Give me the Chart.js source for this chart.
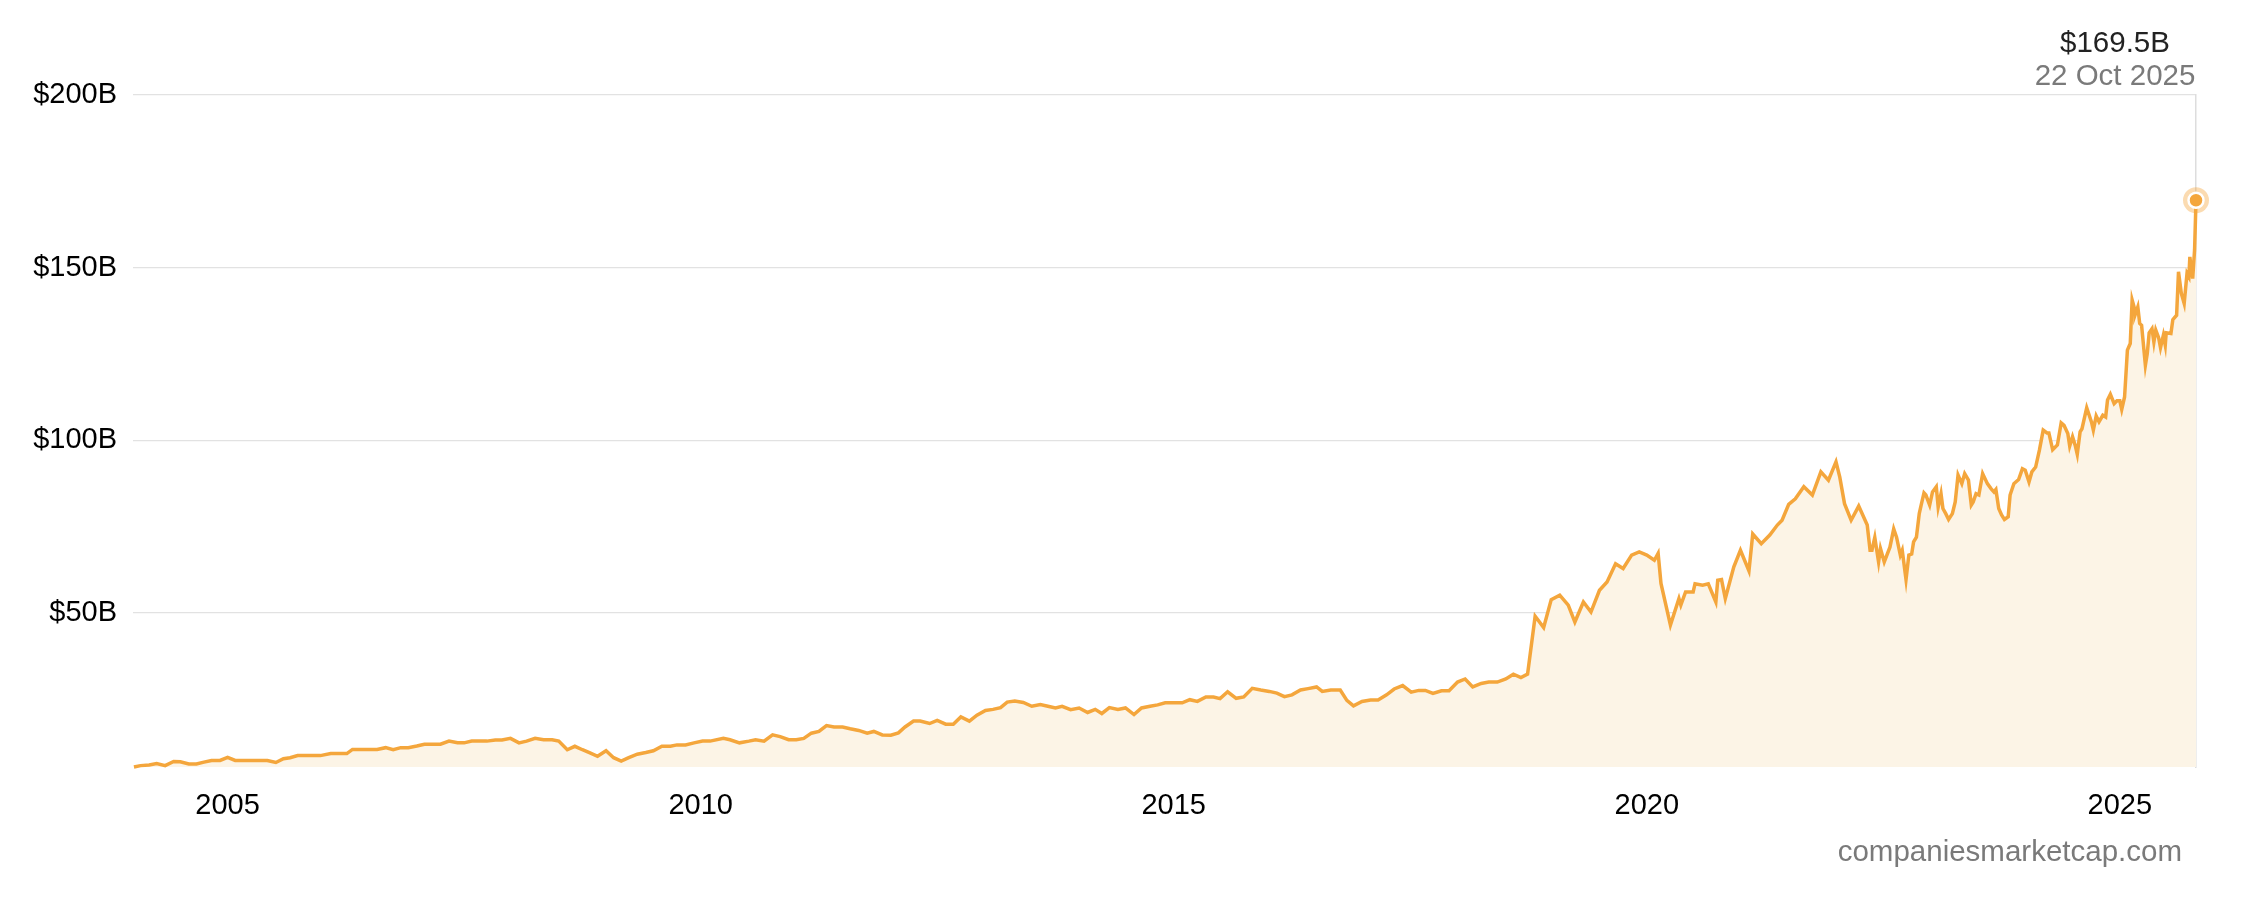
<!DOCTYPE html>
<html>
<head>
<meta charset="utf-8">
<title>Market cap</title>
<script src="https://cdn.jsdelivr.net/npm/chart.js@4.4.1/dist/chart.umd.min.js"></script>
<style>
    html, body { margin: 0; padding: 0; background: #fff; }
    canvas { display: block; }
</style>
</head>
<body>
<canvas id="capChart" width="2254" height="902"></canvas>
<script>
// decimal years of each sample
const years = [
    2004.01, 2004.08, 2004.17, 2004.25, 2004.34, 2004.43, 2004.50, 2004.59, 2004.67, 2004.75, 2004.83, 2004.92,
    2005.00, 2005.08, 2005.17, 2005.28, 2005.42, 2005.51, 2005.59, 2005.66, 2005.74, 2005.84, 2005.98,
    2006.09, 2006.26, 2006.32, 2006.40, 2006.58, 2006.67, 2006.75, 2006.83, 2006.91,
    2007.00, 2007.08, 2007.25, 2007.34, 2007.43, 2007.50, 2007.58, 2007.74, 2007.83, 2007.90, 2007.99,
    2008.08, 2008.16, 2008.25, 2008.34, 2008.43, 2008.50, 2008.59, 2008.67, 2008.75, 2008.83, 2008.91,
    2009.00, 2009.08, 2009.16, 2009.24, 2009.33, 2009.42, 2009.50, 2009.59, 2009.68, 2009.75, 2009.84, 2009.93,
    2010.02, 2010.10, 2010.24, 2010.31, 2010.41, 2010.51, 2010.58, 2010.67, 2010.76, 2010.84, 2010.93,
    2011.01, 2011.09, 2011.17, 2011.25, 2011.33, 2011.41, 2011.50, 2011.58, 2011.67, 2011.76, 2011.83, 2011.92,
    2012.01, 2012.09, 2012.16, 2012.25, 2012.32, 2012.42, 2012.50, 2012.59, 2012.67, 2012.75, 2012.84, 2012.92,
    2013.01, 2013.09, 2013.17, 2013.24, 2013.32, 2013.41, 2013.50, 2013.59, 2013.67, 2013.75, 2013.82, 2013.91,
    2014.00, 2014.09, 2014.17, 2014.24, 2014.32, 2014.41, 2014.49, 2014.58, 2014.66, 2014.75, 2014.83, 2014.91,
    2015.00, 2015.09, 2015.17, 2015.25, 2015.34, 2015.42, 2015.49, 2015.57, 2015.66, 2015.74, 2015.83, 2015.92,
    2016.01, 2016.09, 2016.17, 2016.25, 2016.34, 2016.42, 2016.51, 2016.57, 2016.66, 2016.76, 2016.83, 2016.90, 2016.99,
    2017.08, 2017.16, 2017.25, 2017.33, 2017.42, 2017.51, 2017.59, 2017.66, 2017.74, 2017.83, 2017.91,
    2018.00, 2018.08, 2018.16, 2018.25, 2018.33, 2018.42, 2018.51, 2018.59, 2018.67, 2018.74, 2018.82, 2018.91, 2018.99,
    2019.08, 2019.17, 2019.24, 2019.33, 2019.41, 2019.50, 2019.58, 2019.67, 2019.75, 2019.84, 2019.92,
    2020.00, 2020.08, 2020.12, 2020.15, 2020.25, 2020.34, 2020.36, 2020.41, 2020.49, 2020.51, 2020.59, 2020.65,
    2020.73, 2020.75, 2020.79, 2020.83, 2020.92, 2020.99,
    2021.08, 2021.12, 2021.21, 2021.30, 2021.38, 2021.43, 2021.50, 2021.57, 2021.66, 2021.75, 2021.84, 2021.92,
    2022.00, 2022.04, 2022.09, 2022.16, 2022.24, 2022.33, 2022.36, 2022.38, 2022.41, 2022.45, 2022.47, 2022.51,
    2022.57, 2022.61, 2022.64, 2022.68, 2022.70, 2022.74, 2022.77, 2022.80, 2022.82, 2022.85, 2022.88, 2022.90,
    2022.93, 2022.95, 2022.99,
    2023.02, 2023.06, 2023.08, 2023.11, 2023.13, 2023.16, 2023.19, 2023.23, 2023.26, 2023.29, 2023.33, 2023.36,
    2023.40, 2023.43, 2023.45, 2023.48, 2023.51, 2023.55, 2023.60, 2023.64, 2023.67, 2023.69, 2023.72, 2023.75,
    2023.78, 2023.82, 2023.84, 2023.88, 2023.93, 2023.97,
    2024.00, 2024.04, 2024.07, 2024.11, 2024.15, 2024.19, 2024.23, 2024.25, 2024.29, 2024.34, 2024.38, 2024.41,
    2024.45, 2024.47, 2024.50, 2024.53, 2024.55, 2024.58, 2024.60, 2024.65, 2024.70, 2024.72, 2024.75, 2024.78,
    2024.82, 2024.85, 2024.87, 2024.90, 2024.94, 2024.97,
    2025.00, 2025.02, 2025.05, 2025.08, 2025.11, 2025.13, 2025.15, 2025.16, 2025.19, 2025.21, 2025.23, 2025.27,
    2025.29, 2025.31, 2025.34, 2025.36, 2025.38, 2025.41, 2025.43, 2025.46, 2025.48, 2025.49, 2025.54, 2025.56,
    2025.60, 2025.62, 2025.65, 2025.68, 2025.71, 2025.73, 2025.74, 2025.77, 2025.79, 2025.805
];

// market cap in billions USD
const marketCap = [
    5.3, 5.7, 5.9, 6.3, 5.7, 6.9, 6.8, 6.2, 6.2, 6.7, 7.2, 7.2,
    8.1, 7.2, 7.2, 7.2, 7.2, 6.6, 7.7, 8.0, 8.6, 8.6, 8.6,
    9.2, 9.2, 10.4, 10.4, 10.4, 10.9, 10.3, 10.9, 10.9,
    11.4, 11.9, 11.9, 12.8, 12.3, 12.3, 12.8, 12.8, 13.1, 13.1, 13.6,
    12.3, 12.8, 13.6, 13.2, 13.2, 12.8, 10.3, 11.3, 10.3, 9.4, 8.4,
    10.0, 8.0, 7.0, 8.0, 9.0, 9.5, 10.0, 11.3, 11.3, 11.7, 11.7, 12.3,
    12.8, 12.8, 13.6, 13.2, 12.3, 12.8, 13.2, 12.8, 14.6, 14.1, 13.2,
    13.2, 13.6, 15.1, 15.6, 17.3, 16.9, 16.9, 16.4, 15.9, 15.1, 15.6, 14.6,
    14.5, 15.2, 16.9, 18.6, 18.6, 17.9, 18.8, 17.7, 17.7, 19.8, 18.6, 20.3,
    21.7, 22.0, 22.5, 24.1, 24.4, 24.0, 22.9, 23.4, 22.9, 22.4, 22.9, 21.9,
    22.4, 21.1, 22.0, 20.8, 22.5, 22.0, 22.4, 20.5, 22.4, 22.9, 23.3, 23.9,
    23.9, 23.9, 24.8, 24.3, 25.6, 25.6, 25.1, 27.1, 25.2, 25.6, 28.1, 27.6,
    27.2, 26.7, 25.7, 26.2, 27.6, 28.0, 28.5, 27.2, 27.6, 27.6, 24.6, 23.0, 24.3,
    24.7, 24.7, 26.2, 27.9, 28.9, 27.0, 27.5, 27.5, 26.6, 27.4, 27.4,
    29.9, 30.8, 28.5, 29.5, 29.9, 29.9, 30.8, 32.2, 31.2, 32.2, 49.0, 45.7, 53.8,
    55.1, 52.2, 47.3, 53.1, 50.2, 56.5, 58.9, 64.2, 62.8, 66.7, 67.6,
    66.7, 65.2, 67.2, 58.5, 46.4, 54.1, 52.2, 56.0, 56.0, 58.4, 58.0, 58.4,
    53.1, 59.4, 59.6, 54.1, 63.3, 68.1,
    62.1, 72.8, 70.0, 72.5, 75.4, 76.8, 81.4, 83.0, 86.5, 84.1, 90.8, 88.4,
    93.7, 89.3, 81.6, 76.8, 80.9, 75.4, 68.1, 68.1, 71.8, 64.7, 68.6, 64.7,
    69.0, 74.3, 71.9, 66.7, 68.1, 59.6, 66.7, 67.0, 70.5, 71.9, 78.7, 81.2,
    84.7, 84.1, 81.2,
    85.0, 86.5, 80.6, 84.5, 80.2, 78.7, 77.0, 78.7, 82.1, 89.9, 87.4, 90.3,
    88.4, 81.2, 82.1, 84.5, 84.1, 90.3, 87.4, 85.9, 85.0, 85.7, 80.2, 78.3,
    77.0, 77.8, 84.1, 87.4, 88.6, 91.7,
    91.3, 87.9, 90.8, 92.2, 97.1, 102.9, 102.1, 102.1, 97.2, 98.6, 105.0, 104.3,
    101.9, 98.3, 101.0, 98.3, 95.9, 102.4, 103.3, 109.4, 105.3, 102.9, 107.0, 105.3,
    107.2, 106.7, 111.6, 113.3, 110.6, 111.4,
    111.4, 108.9, 112.5, 126.1, 128.0, 140.6, 138.6, 136.2, 138.6, 133.8, 133.3, 121.7,
    125.1, 131.1, 132.3, 128.4, 131.9, 129.7, 126.8, 130.4, 127.5, 131.1, 130.9, 134.9,
    136.2, 148.8, 142.5, 139.6, 148.3, 147.3, 153.1, 146.8, 155.1, 169.5
];

const xTickYears = [2005, 2010, 2015, 2020, 2025];
const yTickValues = [50, 100, 150, 200];
const lastDateText = '22 Oct 2025';
const sourceText = 'companiesmarketcap.com';

const FONT = '"Liberation Sans", Arial, Helvetica, sans-serif';
const ORANGE = '#f4a63c';

const points = years.map((yr, i) => ({ x: yr, y: marketCap[i] }));
const lastIdx = points.length - 1;
const lastPoint = points[lastIdx];

// price + date above the chart, source text below
const annotations = {
    id: 'annotations',
    afterDraw(chart) {
        const ctx = chart.ctx;
        const area = chart.chartArea;
        const cx = area.right - 81;
        ctx.save();
        ctx.font = '29.5px ' + FONT;
        ctx.textAlign = 'center';
        ctx.textBaseline = 'middle';
        ctx.fillStyle = '#222222';
        ctx.fillText('$' + lastPoint.y.toFixed(1) + 'B', cx, 44);
        ctx.fillStyle = '#7a7a7a';
        ctx.fillText(lastDateText, cx, 77);
        ctx.textAlign = 'right';
        ctx.fillText(sourceText, area.right - 14, 853);
        ctx.restore();
    }
};

const ctx = document.getElementById('capChart').getContext('2d');
const capChart = new Chart(ctx, {
    type: 'line',
    data: {
        datasets: [{
            label: 'Market cap',
            data: points,
            borderColor: ORANGE,
            borderWidth: 3.5,
            backgroundColor: '#fcf4e6',
            fill: 'start',
            tension: 0,
            clip: false,
            order: 1,
            pointRadius: c => c.dataIndex === lastIdx ? 7.5 : 0,
            pointBackgroundColor: ORANGE,
            pointBorderColor: '#ffffff',
            pointBorderWidth: 2.5
        }, {
            label: 'halo',
            data: [lastPoint],
            showLine: false,
            clip: false,
            order: 2,
            pointRadius: 13,
            pointBorderWidth: 0,
            pointBackgroundColor: 'rgba(244, 166, 60, 0.4)'
        }]
    },
    options: {
        responsive: false,
        animation: false,
        layout: { padding: { top: 95, right: 58, left: 0, bottom: 0 } },
        plugins: {
            legend: { display: false },
            tooltip: { enabled: false }
        },
        scales: {
            x: {
                type: 'linear',
                min: 2004.0,
                max: 2025.805,
                grid: { display: false },
                border: { display: false },
                afterBuildTicks: scale => {
                    scale.ticks = xTickYears.map(v => ({ value: v }));
                },
                afterFit: scale => { scale.height = 135; },
                ticks: {
                    color: '#000000',
                    font: { family: FONT, size: 29 },
                    padding: 14,
                    maxRotation: 0,
                    callback: v => String(v)
                }
            },
            y: {
                min: 5.3,
                max: 200,
                border: { display: false },
                grid: { color: '#e2e2e2', lineWidth: 1.2, drawTicks: false },
                afterBuildTicks: scale => {
                    scale.ticks = yTickValues.map(v => ({ value: v }));
                },
                afterFit: scale => { scale.width = 133; },
                ticks: {
                    color: '#000000',
                    font: { family: FONT, size: 29 },
                    padding: 16,
                    callback: v => '$' + v + 'B'
                }
            },
            yRight: {
                position: 'right',
                min: 5.3,
                max: 200,
                grid: { display: false, drawTicks: false },
                border: { display: true, color: '#dddddd', width: 1.5 },
                ticks: { display: false },
                afterFit: scale => { scale.width = 0; }
            }
        }
    },
    plugins: [annotations]
});
</script>
</body>
</html>
